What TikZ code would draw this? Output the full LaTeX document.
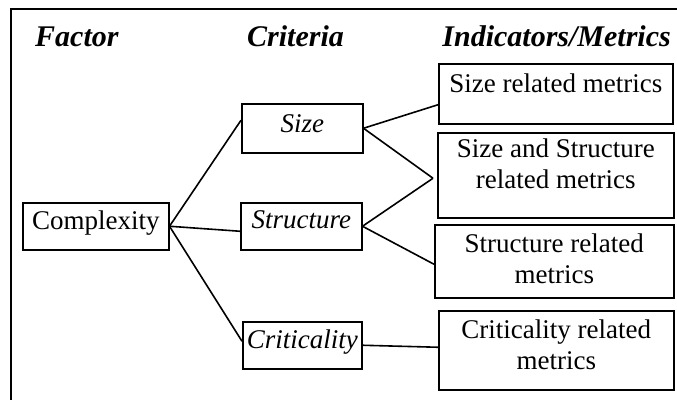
\documentclass[tikz,border=0pt]{standalone}
\usepackage{fontspec}
\setmainfont{Liberation Serif}
\usetikzlibrary{calc}
\begin{document}
\begin{tikzpicture}[x=1pt,y=-1pt,
  frame/.style={line width=1.5pt,line cap=rect},
  head/.style={font=\fontsize{30}{34}\selectfont\bfseries\itshape,inner sep=0pt},
  box/.style={draw,line width=1.5pt,inner sep=0pt,anchor=north west,
    font=\fontsize{27}{31}\selectfont},
  link/.style={line width=1.6pt}]
\useasboundingbox (0,0) rectangle (677,399);

% outer frame (left and top edges)
\draw[frame] (11,399) -- (11,9) -- (677,9);

% column headings
\node[head,anchor=base west] (hfactor) at (35,46) {Factor};
\node[head,anchor=base west] (hcrit) at (247,46) {Criteria};
\node[head,anchor=base east] (hind) at (671,46) {Indicators/Metrics};

% factor
\node[box,minimum width=146pt,text height=27pt,text depth=20pt] (cx) at (22,202) {Complexity};

% criteria
\node[box,minimum width=121pt,text height=29pt,text depth=20pt,font=\fontsize{27}{31}\selectfont\itshape] (size) at (241,103) {Size};
\node[box,minimum width=121pt,text height=26pt,text depth=21pt,font=\fontsize{27}{31}\selectfont\itshape] (struct) at (240,202) {Structure};
\node[box,minimum width=119pt,text height=27pt,text depth=20pt,font=\fontsize{27}{31}\selectfont\itshape] (crit) at (242,321) {Criticality};

% indicators / metrics
\node[box,minimum width=234pt,text height=29pt,text depth=31pt] (msize) at (438,63) {Size related metrics};
\node[box,minimum width=236pt,text height=25pt,text depth=60pt] (mboth) at (437,132)
  {\begin{tabular}[t]{@{}c@{}}Size and Structure\\related metrics\end{tabular}};
\node[box,minimum width=239pt,text height=28pt,text depth=45pt] (mstruct) at (434,224)
  {\begin{tabular}[t]{@{}c@{}}Structure related\\metrics\end{tabular}};
\node[box,minimum width=235pt,text height=28pt,text depth=51pt] (mcrit) at (438,310)
  {\begin{tabular}[t]{@{}c@{}}Criticality related\\metrics\end{tabular}};

% factor -> criteria
\draw[link] (cx.east) -- ($(size.west)+(0,-8)$);
\draw[link] (cx.east) -- ($(struct.west)+(0,5)$);
\draw[link] (cx.east) -- ($(crit.west)+(0,-4)$);

% criteria -> indicators
\draw[link] (size.east) -- ($(msize.west)+(0,11)$);
\draw[link] (size.east) -- ($(mboth.west)+(-4,3)$);
\draw[link] (struct.east) -- ($(mboth.west)+(-4,3)$);
\draw[link] (struct.east) -- ($(mstruct.west)+(0,3)$);
\draw[link] (crit.east) -- ($(mcrit.west)+(0,-3)$);
\end{tikzpicture}
\end{document}
